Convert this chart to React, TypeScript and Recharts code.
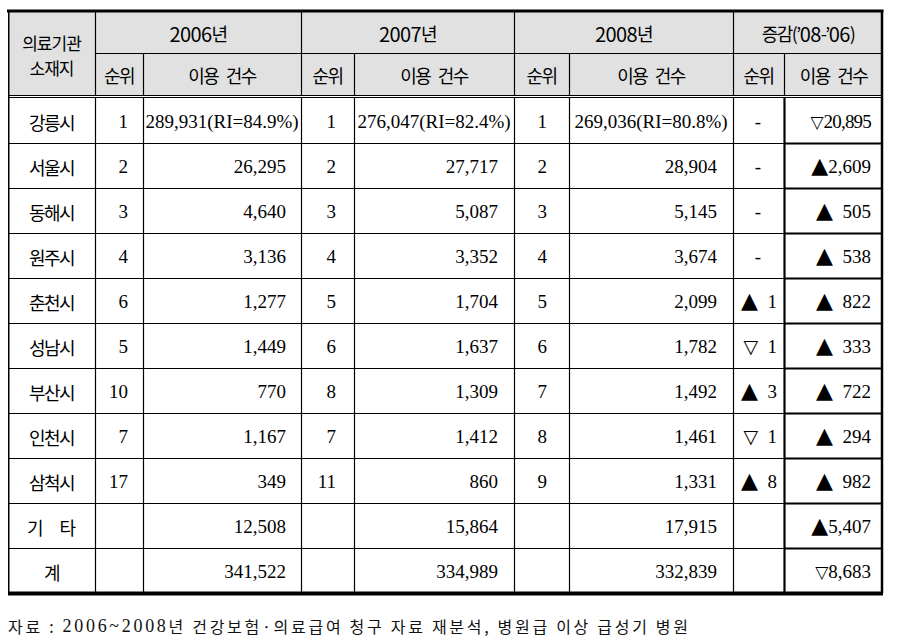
import React from 'react';
import { ComposedChart, Bar, XAxis, YAxis, Customized } from 'recharts';

// ---------- data ----------
const cities = ['강릉시', '서울시', '동해시', '원주시', '춘천시', '성남시', '부산시', '인천시', '삼척시', '기타', '계'];
const rank2006 = [1, 2, 3, 4, 6, 5, 10, 7, 17, null, null];
const count2006 = [289931, 26295, 4640, 3136, 1277, 1449, 770, 1167, 349, 12508, 341522];
const rank2007 = [1, 2, 3, 4, 5, 6, 8, 7, 11, null, null];
const count2007 = [276047, 27717, 5087, 3352, 1704, 1637, 1309, 1412, 860, 15864, 334989];
const rank2008 = [1, 2, 3, 4, 5, 6, 7, 8, 9, null, null];
const count2008 = [269036, 28904, 5145, 3674, 2099, 1782, 1492, 1461, 1331, 17915, 332839];
const riShare = [84.9, 82.4, 80.8];
const rankChange = [0, 0, 0, 0, 1, -1, 3, -1, 8, null, null];
const countChange = [-20895, 2609, 505, 538, 822, 333, 722, 294, 982, 5407, -8683];
const yearLabels = ['2006년', '2007년', '2008년', '증감(’08-’06)'];
const subLabels = ['순위', '이용 건수'];
const cornerLabel = ['의료기관', '소재지'];
const sourcePrefix = '자료 : ';
const sourceYears = '2006~2008';
const sourceRest = '년 건강보험·의료급여 청구 자료 재분석, 병원급 이상 급성기 병원';

const rows = cities.map((city, i) => ({
  idx: i,
  city,
  r06: rank2006[i],
  c06: count2006[i],
  r07: rank2007[i],
  c07: count2007[i],
  r08: rank2008[i],
  c08: count2008[i],
  dr: rankChange[i],
  dc: countChange[i],
  span: 1,
}));

// ---------- layout ----------
const W = 900;
const H = 644;
const L = 8;
const R = 883;
const HEAD_TOP = 12;
const HEAD_MID = 53;
const HEAD_BOT = 95;
const BODY_TOP = 98;
const BODY_BOT = 593;
const edges = [8, 95, 143, 301, 354, 514, 569, 733, 784, 883];
const FONT_KR = '"Noto Sans CJK KR", "Noto Sans", sans-serif';
const FONT_NUM = '"Liberation Serif", "DejaVu Serif", serif';
const FONT_SYM = '"DejaVu Sans", sans-serif';
const HEAD_BG = '#e1e1e1';

const fmt = (n: number) => n.toLocaleString('en-US');

const Up = () => <tspan fontFamily={FONT_SYM} fontSize={22}>▲</tspan>;
const Down = ({ size }: any) => <tspan fontFamily={FONT_SYM} fontSize={size || 18}>▽</tspan>;

// Korean text (vertically centred)
const K = (p: any) => (
  <text
    x={p.x}
    y={p.y}
    textAnchor={p.anchor || 'middle'}
    dominantBaseline="central"
    fontFamily={FONT_KR}
    fontSize={p.size || 18}
    fill="#000"
    letterSpacing={p.ls !== undefined ? p.ls : -1.6}
    wordSpacing={p.ws}
  >
    {p.children}
  </text>
);

// header label: digit runs are set a bit larger, like the original's font
const HeadLabel = (p: any) => {
  const parts = String(p.text).split(/(\d+)/).filter((s: string) => s.length > 0);
  return (
    <K x={p.x} y={p.y} ws={p.ws}>
      {parts.map((s: string, k: number) =>
        /^\d+$/.test(s) ? (
          <tspan key={k} fontSize={20} letterSpacing={-0.6}>{s}</tspan>
        ) : (
          <tspan key={k}>{s}</tspan>
        )
      )}
    </K>
  );
};

// numeric text (alphabetic baseline, so symbols of other sizes share it)
const N = (p: any) => (
  <text
    x={p.x}
    y={p.y + 6.5}
    textAnchor={p.anchor || 'middle'}
    fontFamily={FONT_NUM}
    fontSize={19}
    fill="#000"
    style={{ whiteSpace: 'pre' }}
  >
    {p.children}
  </text>
);

const RankChange = ({ v, cy }: any) => {
  if (v === null) return null;
  if (v === 0) return <N x={758} y={cy}>{'-'}</N>;
  return (
    <N x={777} y={cy} anchor="end">
      {v > 0 ? <Up /> : <Down size={19} />}
      <tspan>{'\u2002' + Math.abs(v)}</tspan>
    </N>
  );
};

const CountChange = ({ v, cy }: any) => {
  const a = Math.abs(v);
  const txt = (v > 0 && a < 1000 ? '\u2002' : '') + fmt(a);
  return (
    <N x={871} y={cy} anchor="end">
      {v > 0 ? <Up /> : <Down size={17} />}
      <tspan letterSpacing={a >= 10000 ? -0.8 : 0}>{txt}</tspan>
    </N>
  );
};

const RowShape = (props: any) => {
  const { y, height, payload } = props;
  const i = payload.idx;
  const cy = y + height / 2 + 1;
  const bottom = y + height;
  const last = i === cities.length - 1;
  const first = i === 0;
  const inner = edges.slice(1, -1);
  const cell = (a: number, b: number) => (edges[a] + edges[b]) / 2;
  return (
    <g>
      {inner.map((x, k) => (
        <line key={k} x1={x + 0.5} x2={x + 0.5} y1={y} y2={bottom} stroke="#000" strokeWidth={x === 784 ? 2.2 : 1.2} />
      ))}
      <line x1={L + 0.75} x2={L + 0.75} y1={y} y2={bottom} stroke="#000" strokeWidth={1.5} />
      <line x1={R - 1} x2={R - 1} y1={y} y2={bottom} stroke="#000" strokeWidth={2.5} />
      {last ? (
        <line x1={L} x2={R} y1={bottom + 0.5} y2={bottom + 0.5} stroke="#000" strokeWidth={4} />
      ) : (
        <g>
          <line x1={L} x2={784} y1={bottom + 0.5} y2={bottom + 0.5} stroke="#000" strokeWidth={1.2} />
          <line x1={784} x2={R} y1={bottom + 0.5} y2={bottom + 0.5} stroke="#000" strokeWidth={2.2} />
        </g>
      )}
      {payload.city === '기타' ? (
        <K x={cell(0, 1) + 8} y={cy} ls={16}>{payload.city}</K>
      ) : (
        <K x={cell(0, 1)} y={cy}>{payload.city}</K>
      )}
      {payload.r06 !== null && <N x={128} y={cy} anchor="end">{payload.r06}</N>}
      {payload.r07 !== null && <N x={336} y={cy} anchor="end">{payload.r07}</N>}
      {payload.r08 !== null && <N x={547} y={cy} anchor="end">{payload.r08}</N>}
      {first ? (
        <g>
          <N x={cell(2, 3)} y={cy}>{fmt(payload.c06) + '(RI=' + riShare[0] + '%)'}</N>
          <N x={cell(4, 5)} y={cy}>{fmt(payload.c07) + '(RI=' + riShare[1] + '%)'}</N>
          <N x={cell(6, 7)} y={cy}>{fmt(payload.c08) + '(RI=' + riShare[2] + '%)'}</N>
        </g>
      ) : (
        <g>
          <N x={286} y={cy} anchor="end">{fmt(payload.c06)}</N>
          <N x={498} y={cy} anchor="end">{fmt(payload.c07)}</N>
          <N x={717} y={cy} anchor="end">{fmt(payload.c08)}</N>
        </g>
      )}
      <RankChange v={payload.dr} cy={cy} />
      <CountChange v={payload.dc} cy={cy} />
    </g>
  );
};

const HeaderLayer = () => {
  const mid = (a: number, b: number) => (edges[a] + edges[b]) / 2;
  const yr1 = (HEAD_TOP + HEAD_MID) / 2 + 0.5;
  const yr2 = (HEAD_MID + HEAD_BOT) / 2 + 0.5;
  const groups = [
    [1, 3],
    [3, 5],
    [5, 7],
    [7, 9],
  ];
  return (
    <g>
      <rect x={L} y={HEAD_TOP} width={R - L} height={HEAD_BOT - HEAD_TOP} fill={HEAD_BG} />
      <line x1={L - 1} x2={R + 0.5} y1={HEAD_TOP - 1} y2={HEAD_TOP - 1} stroke="#000" strokeWidth={3} />
      <line x1={edges[1]} x2={R} y1={HEAD_MID + 0.5} y2={HEAD_MID + 0.5} stroke="#000" strokeWidth={1.2} />
      {[1, 3, 5, 7].map((k) => (
        <line key={'a' + k} x1={edges[k] + 0.5} x2={edges[k] + 0.5} y1={HEAD_TOP} y2={HEAD_BOT} stroke="#000" strokeWidth={1.2} />
      ))}
      {[2, 4, 6, 8].map((k) => (
        <line key={'b' + k} x1={edges[k] + 0.5} x2={edges[k] + 0.5} y1={HEAD_MID} y2={HEAD_BOT} stroke="#000" strokeWidth={1.2} />
      ))}
      <line x1={L + 0.75} x2={L + 0.75} y1={HEAD_TOP - 2} y2={BODY_TOP} stroke="#000" strokeWidth={1.5} />
      <line x1={R - 1} x2={R - 1} y1={HEAD_TOP - 2} y2={BODY_TOP} stroke="#000" strokeWidth={2.5} />
      <line x1={L} x2={R} y1={HEAD_BOT + 0.5} y2={HEAD_BOT + 0.5} stroke="#000" strokeWidth={1.2} />
      <line x1={L} x2={R} y1={BODY_TOP - 0.5} y2={BODY_TOP - 0.5} stroke="#000" strokeWidth={1.2} />
      <K x={mid(0, 1)} y={42} size={17} ls={-1}>{cornerLabel[0]}</K>
      <K x={mid(0, 1)} y={67} size={17} ls={-1}>{cornerLabel[1]}</K>
      {groups.map((g, k) => (
        <HeadLabel key={'y' + k} x={mid(g[0], g[1])} y={yr1} text={yearLabels[k]} />
      ))}
      {groups.map((g, k) => (
        <g key={'s' + k}>
          <HeadLabel x={mid(g[0], g[0] + 1)} y={yr2} text={subLabels[0]} />
          <HeadLabel x={mid(g[0] + 1, g[1])} y={yr2} text={subLabels[1]} ws={5} />
        </g>
      ))}
      <text x={L} y={626} dominantBaseline="central" fontFamily={FONT_KR} fontSize={16} fill="#111" textLength={680} lengthAdjust="spacing">
        <tspan>{sourcePrefix}</tspan>
        <tspan fontFamily={FONT_NUM} fontSize={18}>{sourceYears}</tspan>
        <tspan>{sourceRest}</tspan>
      </text>
    </g>
  );
};

export default function App() {
  return (
    <div style={{ position: 'absolute', left: 0, top: 0, width: W, height: H, background: '#fff' }}>
      <ComposedChart
        width={W}
        height={H}
        data={rows}
        layout="vertical"
        margin={{ top: BODY_TOP, bottom: H - BODY_BOT, left: L, right: W - R }}
        barCategoryGap={0}
        barGap={0}
      >
        <XAxis type="number" hide domain={[0, 1]} />
        <YAxis type="category" dataKey="city" hide />
        <Bar dataKey="span" isAnimationActive={false} shape={<RowShape />} />
        <Customized component={<HeaderLayer />} />
      </ComposedChart>
    </div>
  );
}
